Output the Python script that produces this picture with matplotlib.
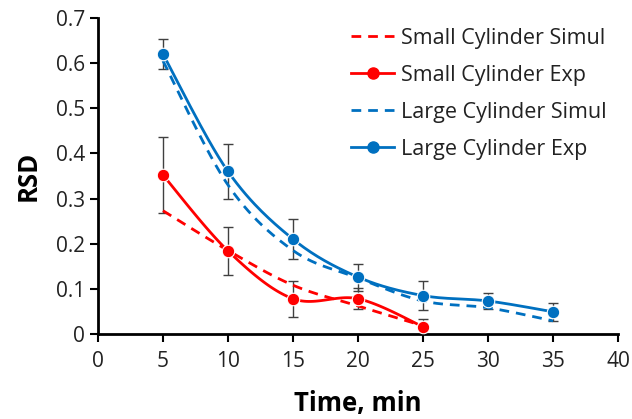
import numpy as np
import matplotlib
matplotlib.use("Agg")
import matplotlib.pyplot as plt

time_small = [5, 10, 15, 20, 25]
time_large = [5, 10, 15, 20, 25, 30, 35]
small_simul = [0.273, 0.185, 0.108, 0.062, 0.018]
small_exp = [0.352, 0.184, 0.078, 0.078, 0.016]
small_err = [0.085, 0.053, 0.04, 0.023, 0.018]
large_simul = [0.605, 0.33, 0.185, 0.124, 0.073, 0.058, 0.029]
large_exp = [0.62, 0.36, 0.21, 0.126, 0.085, 0.073, 0.049]
large_err = [0.033, 0.06, 0.045, 0.03, 0.033, 0.018, 0.02]

RED = "#FF0000"
BLUE = "#0070C0"

def smooth(x, y, n=30):
    # Catmull-Rom style smoothing (as in spreadsheet "smoothed line")
    x = np.asarray(x, float); y = np.asarray(y, float)
    xs, ys = [], []
    for i in range(len(x) - 1):
        p0 = (x[i-1], y[i-1]) if i > 0 else (x[i], y[i])
        p1 = (x[i], y[i]); p2 = (x[i+1], y[i+1])
        p3 = (x[i+2], y[i+2]) if i + 2 < len(x) else (x[i+1], y[i+1])
        c1 = (p1[0] + (p2[0]-p0[0])/6, p1[1] + (p2[1]-p0[1])/6)
        c2 = (p2[0] - (p3[0]-p1[0])/6, p2[1] - (p3[1]-p1[1])/6)
        t = np.linspace(0, 1, n)
        bx = (1-t)**3*p1[0] + 3*(1-t)**2*t*c1[0] + 3*(1-t)*t**2*c2[0] + t**3*p2[0]
        by = (1-t)**3*p1[1] + 3*(1-t)**2*t*c1[1] + 3*(1-t)*t**2*c2[1] + t**3*p2[1]
        xs.extend(bx); ys.extend(by)
    return xs, ys

plt.rcParams['font.family'] = ['Open Sans', 'DejaVu Sans']
fig = plt.figure(figsize=(6.32, 4.19), dpi=100)
ax = fig.add_axes([0.155, 0.203, 0.823, 0.754])

# error bars
ax.errorbar(time_small, small_exp, yerr=small_err, fmt='none', ecolor='#404040',
            elinewidth=1, capsize=3.5, capthick=1, zorder=2)
ax.errorbar(time_large, large_exp, yerr=large_err, fmt='none', ecolor='#404040',
            elinewidth=1, capsize=3.5, capthick=1, zorder=2)

sx, sy = smooth(time_small, small_simul)
ax.plot(sx, sy, color=RED, lw=2, ls=(0, (3.5, 2.5)), zorder=3, label='Small Cylinder Simul')
sx, sy = smooth(time_small, small_exp)
ax.plot(sx, sy, color=RED, lw=2, zorder=3)
ax.plot(time_small, small_exp, 'o', color=RED, ms=9, mec='white', mew=0.8, zorder=4)
ax.plot([], [], color=RED, lw=2, marker='o', ms=8, label='Small Cylinder Exp')

sx, sy = smooth(time_large, large_simul)
ax.plot(sx, sy, color=BLUE, lw=2, ls=(0, (3.5, 2.5)), zorder=3, label='Large Cylinder Simul')
sx, sy = smooth(time_large, large_exp)
ax.plot(sx, sy, color=BLUE, lw=2, zorder=3)
ax.plot(time_large, large_exp, 'o', color=BLUE, ms=9, mec='white', mew=0.8, zorder=4)
ax.plot([], [], color=BLUE, lw=2, marker='o', ms=8, label='Large Cylinder Exp')

ax.set_xlim(0, 40)
ax.set_ylim(0, 0.7)
ax.set_xticks(range(0, 41, 5))
ax.set_yticks(np.arange(0, 0.71, 0.1))
ax.set_yticklabels(['0', '0.1', '0.2', '0.3', '0.4', '0.5', '0.6', '0.7'])
ax.tick_params(labelsize=15, width=1.5, length=6, color='black', labelcolor='#222222')
ax.tick_params(axis='x', pad=6)
ax.spines['top'].set_visible(False)
ax.spines['right'].set_visible(False)
ax.spines['left'].set_linewidth(2)
ax.spines['bottom'].set_linewidth(2)
ax.set_xlabel('Time, min', fontsize=18.5, fontweight='bold', labelpad=13)
ax.set_ylabel('RSD', fontsize=18.5, fontweight='bold', labelpad=10)

leg = ax.legend(loc='upper right', bbox_to_anchor=(1.015, 1.03), frameon=False,
                fontsize=15.5, handlelength=2.0, handletextpad=0.3, labelspacing=0.74)
for t in leg.get_texts():
    t.set_color('#222222')

fig.savefig('out.png', dpi=100)
